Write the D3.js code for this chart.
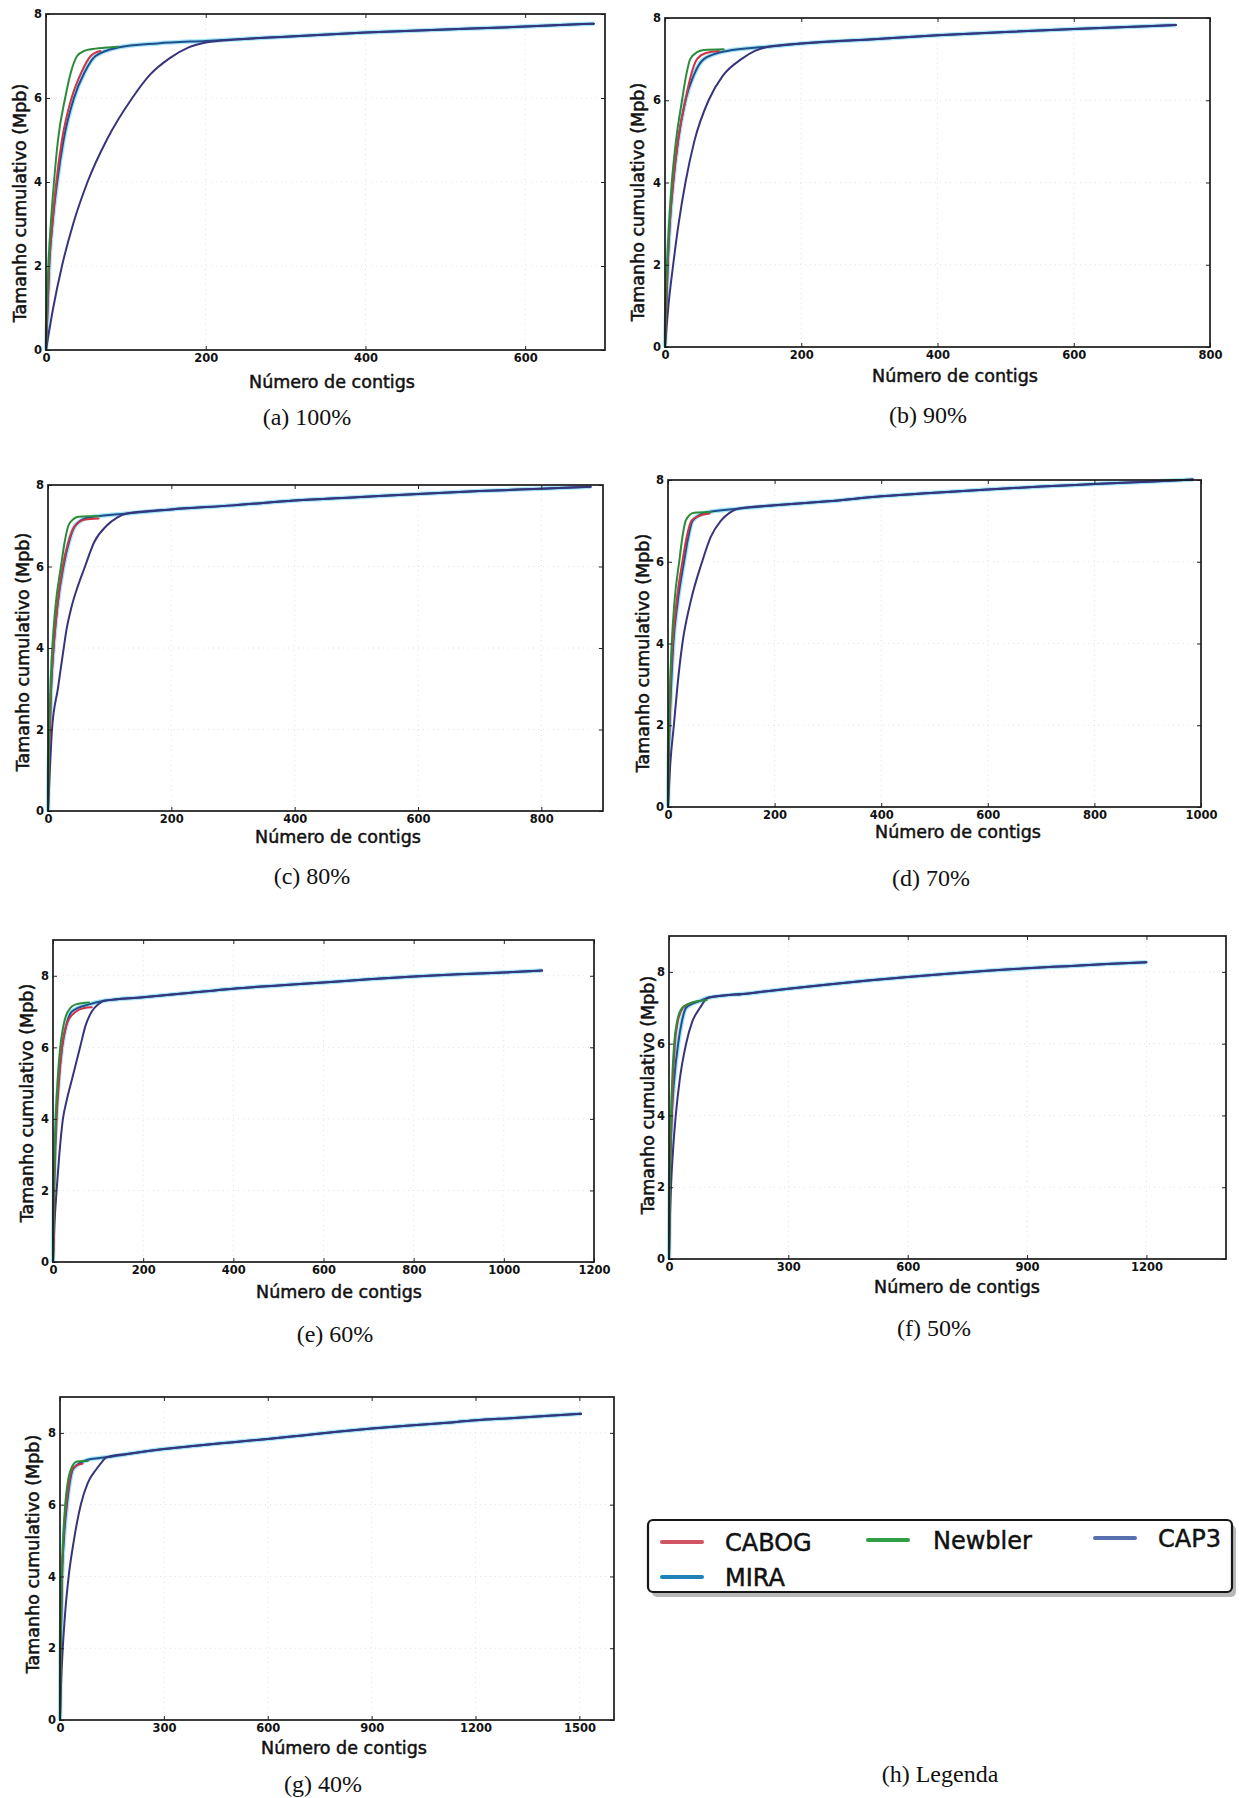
<!DOCTYPE html>
<html><head><meta charset="utf-8">
<script src="https://cdn.jsdelivr.net/npm/d3@7"></script>
<style>body{margin:0;background:#fff} svg{display:block}</style>
</head><body>
<svg id="c" width="1239" height="1798"></svg>
<script>
// ---------------- DATA ----------------
const seriesNames = ["CABOG", "Newbler", "MIRA", "CAP3"];
const captions = ["(a) 100%", "(b) 90%", "(c) 80%", "(d) 70%", "(e) 60%", "(f) 50%", "(g) 40%"];
const legendCaption = "(h) Legenda";
const xLabel = "Número de contigs";
const yLabel = "Tamanho cumulativo (Mpb)";

const xTicksA = [0, 200, 400, 600];
const xTicksB = [0, 200, 400, 600, 800];
const xTicksC = [0, 200, 400, 600, 800];
const xTicksD = [0, 200, 400, 600, 800, 1000];
const xTicksE = [0, 200, 400, 600, 800, 1000, 1200];
const xTicksF = [0, 300, 600, 900, 1200];
const xTicksG = [0, 300, 600, 900, 1200, 1500];
const yTicks = [0, 2, 4, 6, 8];
const xMaxes = [700, 800, 900, 1000, 1200, 1400, 1600];
const yMaxes = [8, 8, 8, 8, 9, 9, 9];

// (a) 100%
const a_CABOG = [[0,0],[2,1],[4,2],[8,3],[13,4],[20,5],[32,6],[44,6.6],[56,7.0],[62,7.08],[68,7.12]];
const a_Newbler = [[0,0],[1,1],[3,2],[6,3],[10,4],[15,5],[24,6],[31,6.6],[39,7.0],[48,7.12],[56,7.16],[75,7.2],[90,7.22]];
const a_MIRA = [[0,0],[2,1],[4,2],[8,3],[14,4],[22,5],[35,6],[48,6.6],[62,7.0],[90,7.2],[140,7.3],[200,7.36],[300,7.46],[400,7.56],[500,7.63],[600,7.7],[686,7.77]];
const a_CAP3 = [[0,0],[9,1],[20,2],[34,3],[52,4],[76,5],[108,6],[130,6.55],[155,6.95],[178,7.2],[200,7.32],[230,7.38],[300,7.46],[400,7.56],[500,7.63],[600,7.7],[686,7.77]];
// (b) 90%
const b_CABOG = [[0,0],[2,1],[4,2],[7,3],[12,4],[19,5],[30,6],[38,6.6],[47,7.0],[60,7.15],[79,7.2]];
const b_Newbler = [[0,0],[1,1],[3,2],[6,3],[10,4],[16,5],[25,6],[31,6.6],[37,7.0],[47,7.17],[57,7.22],[86,7.24]];
const b_MIRA = [[0,0],[2,1],[4,2],[7,3],[12,4],[19,5],[30,6],[42,6.6],[57,7.0],[91,7.2],[150,7.3],[200,7.38],[300,7.48],[400,7.58],[500,7.66],[600,7.73],[750,7.83]];
const b_CAP3 = [[0,0],[5,1],[12,2],[20,3],[30,4],[43,5],[64,6],[85,6.6],[112,7.0],[132,7.2],[152,7.3],[200,7.38],[300,7.48],[400,7.58],[500,7.66],[600,7.73],[750,7.83]];
// (c) 80%
const c_CABOG = [[0,0],[1,1],[3,2],[5,3],[9,4],[15,5],[24,6],[33,6.6],[44,7.0],[60,7.15],[82,7.18]];
const c_Newbler = [[0,0],[1,1],[2,2],[4,3],[7,4],[12,5],[21,6],[27,6.6],[33,7.0],[41,7.16],[49,7.22],[82,7.24]];
const c_MIRA = [[0,0],[1,1],[3,2],[5,3],[9,4],[15,5],[25,6],[34,6.6],[44,7.0],[65,7.2],[128,7.3],[200,7.4],[300,7.5],[400,7.62],[500,7.7],[600,7.78],[700,7.85],[800,7.91],[880,7.96]];
const c_CAP3 = [[0,0],[3,1],[6.5,2],[16,3],[25.5,4],[30,4.45],[38,5],[48,5.5],[60,6],[75,6.6],[95,7.0],[112,7.2],[128,7.3],[200,7.4],[300,7.5],[400,7.62],[500,7.7],[600,7.78],[700,7.85],[800,7.91],[880,7.96]];
// (d) 70%
const d_CABOG = [[0,0],[1,1],[3,2],[5,3],[9,4],[16,5],[27,6],[35,6.6],[44,7.0],[58,7.12],[78,7.18]];
const d_Newbler = [[0,0],[1,1],[2,2],[4,3],[7,4],[12,5],[21,6],[27,6.6],[33,7.0],[41,7.15],[49,7.2],[80,7.22]];
const d_MIRA = [[0,0],[1,1],[3,2],[6,3],[10,4],[18,5],[30,6],[38,6.6],[46,7.0],[70,7.2],[133,7.3],[200,7.38],[300,7.48],[400,7.6],[500,7.69],[600,7.77],[700,7.84],[800,7.9],[900,7.96],[985,8.01]];
const d_CAP3 = [[0,0],[4,1],[11,2],[18,3],[27,4],[42,5],[64,6],[80,6.6],[99,7.0],[116,7.2],[133,7.3],[200,7.38],[300,7.48],[400,7.6],[500,7.69],[600,7.77],[700,7.84],[800,7.9],[900,7.96],[985,8.01]];
// (e) 60%
const e_CABOG = [[0,0],[2,1],[3,2],[5,3],[8,4],[13,5],[20,6],[32,6.7],[51,7.0],[70,7.1],[86,7.12]];
const e_Newbler = [[0,0],[1,1],[2,2],[4,3],[6,4],[10,5],[16,6],[23,6.6],[33,7.0],[51,7.2],[80,7.25]];
const e_MIRA = [[0,0],[1,1],[2,2],[4,3],[7,4],[12,5],[20,6],[29,6.6],[42,7.0],[80,7.2],[113,7.3],[200,7.4],[300,7.52],[400,7.64],[500,7.73],[600,7.81],[700,7.9],[800,7.98],[900,8.04],[1000,8.09],[1085,8.15]];
const e_CAP3 = [[0,0],[3,1],[8,2],[14,3],[22,4],[30,4.5],[42,5.1],[60,6],[72,6.6],[86,7.0],[100,7.2],[113,7.3],[200,7.4],[300,7.52],[400,7.64],[500,7.73],[600,7.81],[700,7.9],[800,7.98],[900,8.04],[1000,8.09],[1085,8.15]];
// (f) 50%
const f_CABOG = [[0,0],[1,1],[2,2],[4,3],[7,4],[10,5],[15,6],[22,6.6],[35,7.0],[48,7.1],[60,7.15]];
const f_Newbler = [[0,0],[1,1],[2,2],[3,3],[5,4],[8,5],[13,6],[20,6.6],[33,7.0],[48,7.1],[70,7.18],[95,7.22]];
const f_MIRA = [[0,0],[1,1],[2,2],[4,3],[7,4],[13,5],[23,6],[32,6.6],[43,7.0],[80,7.2],[98,7.28],[200,7.4],[300,7.53],[400,7.65],[500,7.76],[600,7.86],[700,7.95],[800,8.03],[900,8.1],[1000,8.16],[1100,8.22],[1200,8.27]];
const f_CAP3 = [[0,0],[2,1],[5,2],[10,3],[17,4],[27,5],[43,6],[58,6.6],[78,7.0],[90,7.2],[98,7.28],[200,7.4],[300,7.53],[400,7.65],[500,7.76],[600,7.86],[700,7.95],[800,8.03],[900,8.1],[1000,8.16],[1100,8.22],[1200,8.27]];
// (g) 40%
const g_CABOG = [[0,0],[1,1],[2,2],[4,3],[6,4],[10,5],[18,6],[26,6.6],[36,7.0],[50,7.1],[65,7.14]];
const g_Newbler = [[0,0],[1,1],[2,2],[3,3],[5,4],[9,5],[15,6],[22,6.6],[32,7.0],[49,7.2],[80,7.22]];
const g_MIRA = [[0,0],[1,1],[2,2],[4,3],[6,4],[11,5],[20,6],[28,6.6],[38,7.0],[80,7.25],[134,7.32],[200,7.42],[300,7.55],[400,7.65],[500,7.74],[600,7.83],[700,7.93],[800,8.03],[900,8.12],[1000,8.2],[1100,8.27],[1200,8.35],[1300,8.41],[1400,8.47],[1505,8.53]];
const g_CAP3 = [[0,0],[3,1],[8,2],[15,3],[25,4],[40,5],[60,6],[80,6.6],[106,7.0],[122,7.2],[134,7.32],[200,7.42],[300,7.55],[400,7.65],[500,7.74],[600,7.83],[700,7.93],[800,8.03],[900,8.12],[1000,8.2],[1100,8.27],[1200,8.35],[1300,8.41],[1400,8.47],[1505,8.53]];

// ---------------- STYLE / LAYOUT ----------------
const lineColors = {CABOG: "#cf3444", Newbler: "#2a8c3a", MIRA: "#1f4f8e", CAP3: "#37347c"};
const lineWidths = {CABOG: 2, Newbler: 2, MIRA: 2, CAP3: 2};
const haloColor = "#8fdff4";
const drawOrder = ["MIRA", "CAP3", "CABOG", "Newbler"];
const legendColors = {CABOG: "#d05462", Newbler: "#2fa045", CAP3: "#5670b0", MIRA: "#1f82b8"};

const frames = [
  {l:46,  t:14,   r:605,  b:350,  xl:[332,388],  yl:[20,203],  cap:[307,425]},
  {l:665, t:18,   r:1210, b:347,  xl:[955,382],  yl:[638,202], cap:[928,423]},
  {l:48,  t:485,  r:603,  b:811,  xl:[338,843],  yl:[23,652],  cap:[312,884]},
  {l:668, t:480,  r:1201, b:807,  xl:[958,838],  yl:[643,653], cap:[931,886]},
  {l:53,  t:940,  r:594,  b:1262, xl:[339,1298], yl:[27,1103], cap:[335,1342]},
  {l:669, t:936,  r:1226, b:1259, xl:[957,1293], yl:[648,1095],cap:[934,1336]},
  {l:60,  t:1397, r:614,  b:1720, xl:[344,1754], yl:[33,1554], cap:[323,1792]}
];

const panelSeries = [
  [a_CABOG, a_Newbler, a_MIRA, a_CAP3],
  [b_CABOG, b_Newbler, b_MIRA, b_CAP3],
  [c_CABOG, c_Newbler, c_MIRA, c_CAP3],
  [d_CABOG, d_Newbler, d_MIRA, d_CAP3],
  [e_CABOG, e_Newbler, e_MIRA, e_CAP3],
  [f_CABOG, f_Newbler, f_MIRA, f_CAP3],
  [g_CABOG, g_Newbler, g_MIRA, g_CAP3]
];
const panelXTicks = [xTicksA, xTicksB, xTicksC, xTicksD, xTicksE, xTicksF, xTicksG];

const svg = d3.select("#c");
const SANS = "'DejaVu Sans', sans-serif";
const SERIF = "'Liberation Serif', 'DejaVu Serif', serif";

function heavy(sel, w) {
  return sel.attr("stroke", "#111").attr("stroke-width", w).attr("paint-order", "stroke");
}

panelSeries.forEach((seriesList, i) => {
  const f = frames[i];
  const x = d3.scaleLinear().domain([0, xMaxes[i]]).range([f.l, f.r]);
  const y = d3.scaleLinear().domain([0, yMaxes[i]]).range([f.b, f.t]);
  const g = svg.append("g");
  const xt = panelXTicks[i];

  // faint dotted grid
  const grid = g.append("g").attr("stroke", "#e2e2e2").attr("stroke-width", 1)
    .attr("stroke-dasharray", "1,4").attr("fill", "none");
  xt.filter(v => v > 0 && v < xMaxes[i]).forEach(v => {
    grid.append("line").attr("x1", x(v)).attr("x2", x(v)).attr("y1", f.t).attr("y2", f.b);
  });
  yTicks.filter(v => v > 0 && v < yMaxes[i]).forEach(v => {
    grid.append("line").attr("x1", f.l).attr("x2", f.r).attr("y1", y(v)).attr("y2", y(v));
  });

  // curves
  const line = d3.line().x(d => x(d[0])).y(d => y(d[1])).curve(d3.curveMonotoneX);
  const miraIdx = seriesNames.indexOf("MIRA");
  g.append("path").datum(seriesList[miraIdx]).attr("d", line)
    .attr("fill", "none").attr("stroke", haloColor).attr("stroke-width", 4.5)
    .attr("stroke-linejoin", "round").attr("opacity", 0.8);
  drawOrder.forEach(name => {
    const k = seriesNames.indexOf(name);
    g.append("path").datum(seriesList[k]).attr("d", line)
      .attr("fill", "none").attr("stroke", lineColors[name])
      .attr("stroke-width", lineWidths[name]).attr("stroke-linejoin", "round")
      .attr("stroke-linecap", "round");
  });

  // axes with inward ticks (all four sides)
  const fmt = d3.format("d");
  const bottom = d3.axisBottom(x).tickValues(xt).tickSize(-4).tickPadding(4).tickFormat(fmt);
  const top = d3.axisTop(x).tickValues(xt).tickSize(-4).tickFormat("");
  const left = d3.axisLeft(y).tickValues(yTicks).tickSize(-4).tickPadding(4).tickFormat(fmt);
  const right = d3.axisRight(y).tickValues(yTicks).tickSize(-4).tickFormat("");
  const axStyle = sel => {
    sel.select(".domain").remove();
    sel.selectAll(".tick line").attr("stroke", "#222").attr("stroke-width", 1);
    sel.selectAll(".tick text").attr("font-family", SANS).attr("font-size", 11.5)
      .attr("font-weight", "bold").attr("fill", "#111");
  };
  g.append("g").attr("transform", `translate(0,${f.b})`).call(bottom).call(axStyle);
  g.append("g").attr("transform", `translate(0,${f.t})`).call(top).call(axStyle);
  g.append("g").attr("transform", `translate(${f.l},0)`).call(left).call(axStyle);
  g.append("g").attr("transform", `translate(${f.r},0)`).call(right).call(axStyle);

  // frame
  g.append("rect").attr("x", f.l).attr("y", f.t).attr("width", f.r - f.l).attr("height", f.b - f.t)
    .attr("fill", "none").attr("stroke", "#1a1a1a").attr("stroke-width", 1.7);

  // labels
  g.append("text").attr("x", f.xl[0]).attr("y", f.xl[1]).attr("text-anchor", "middle")
    .attr("font-family", SANS).attr("font-size", 17.5).attr("fill", "#111").text(xLabel)
    .call(heavy, 0.5);
  g.append("text").attr("transform", `translate(${f.yl[0]},${f.yl[1]}) rotate(-90)`)
    .attr("text-anchor", "middle").attr("dominant-baseline", "central")
    .attr("font-family", SANS).attr("font-size", 17.5).attr("fill", "#111").text(yLabel)
    .call(heavy, 0.5);
  g.append("text").attr("x", f.cap[0]).attr("y", f.cap[1]).attr("text-anchor", "middle")
    .attr("font-family", SERIF).attr("font-size", 24).attr("fill", "#111").text(captions[i]);
});

// ---------------- LEGEND ----------------
const legendBox = {x: 648, y: 1520, w: 584, h: 72};
const legendItems = [
  {name: "CABOG", lx: 662, tx: 725, y: 1542},
  {name: "Newbler", lx: 868, tx: 933, y: 1540},
  {name: "CAP3", lx: 1095, tx: 1158, y: 1538},
  {name: "MIRA", lx: 662, tx: 725, y: 1577}
];
const lg = svg.append("g");
lg.append("rect").attr("x", legendBox.x + 4).attr("y", legendBox.y + 5)
  .attr("width", legendBox.w).attr("height", legendBox.h).attr("rx", 5)
  .attr("fill", "#9a9a9a").attr("opacity", 0.7);
lg.append("rect").attr("x", legendBox.x).attr("y", legendBox.y)
  .attr("width", legendBox.w).attr("height", legendBox.h).attr("rx", 5)
  .attr("fill", "#fff").attr("stroke", "#151515").attr("stroke-width", 2.2);
legendItems.forEach(it => {
  lg.append("line").attr("x1", it.lx).attr("x2", it.lx + 40).attr("y1", it.y).attr("y2", it.y)
    .attr("stroke", legendColors[it.name]).attr("stroke-width", 4).attr("stroke-linecap", "round");
  lg.append("text").attr("x", it.tx).attr("y", it.y + 9).attr("font-family", SANS)
    .attr("font-size", 24).attr("fill", "#111").text(it.name).call(heavy, 0.5);
});
svg.append("text").attr("x", 940).attr("y", 1782).attr("text-anchor", "middle")
  .attr("font-family", SERIF).attr("font-size", 24).attr("fill", "#111").text(legendCaption);
</script>
</body></html>
